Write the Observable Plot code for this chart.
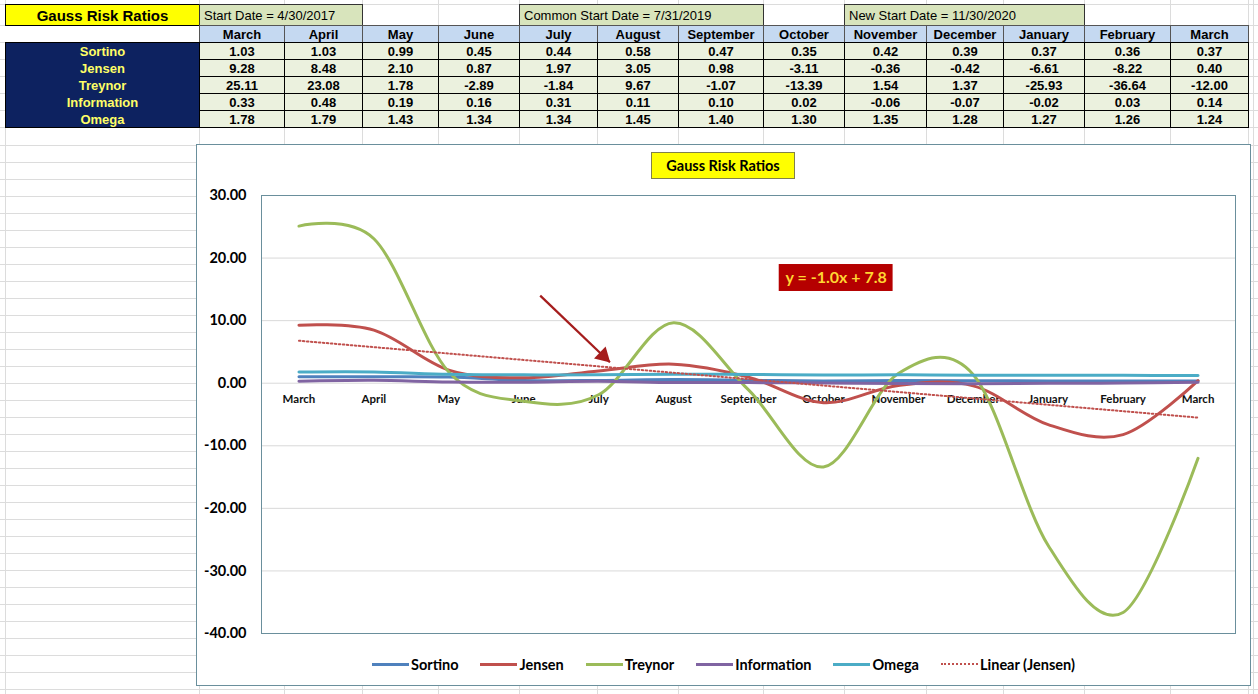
<!DOCTYPE html>
<html>
<head>
<meta charset="utf-8">
<script src="https://cdn.jsdelivr.net/npm/d3@7"></script>
<script src="https://cdn.jsdelivr.net/npm/@observablehq/plot@0.6"></script>
<style>
html, body { margin: 0; padding: 0; }
body { width: 1258px; height: 694px; position: relative; overflow: hidden; background: #fff; font-family: "Liberation Sans", Arial, sans-serif; }
#sheet { position: absolute; left: 0; top: 0; width: 1258px; height: 694px; }
.hl { position: absolute; left: 0; width: 1258px; height: 1px; background: #dcdcdc; }
.vl { position: absolute; top: 0; width: 1px; height: 694px; background: #dcdcdc; }
.cell { position: absolute; box-sizing: border-box; display: flex; align-items: center; justify-content: center; white-space: nowrap; overflow: hidden; color: #000; }
.title { background: #ffff00; border: 1px solid #000; font-weight: bold; font-size: 15px; }
.date { background: #d8e4bc; border: 1px solid #333; font-size: 13px; justify-content: flex-start; padding-left: 4px; }
.mhead { background: #c5d9f1; border: 1px solid #555; font-weight: bold; font-size: 13px; }
.blank { background: #fff; }
.navy { background: #0d2260; border: 1px solid #000; }
.lab { color: #ffff66; font-weight: bold; font-size: 13px; }
.val { background: #ebf1de; border: 1px solid #000; font-weight: bold; font-size: 13px; }
#chart { position: absolute; left: 196px; top: 144px; width: 1055px; height: 542px; box-sizing: border-box; border: 1px solid #6a8f9c; background: #fff; }
#chart svg { position: absolute; left: 0; top: 0; }
#chart svg g[aria-label^="y-axis"] { font-size: 14.5px; font-weight: bold; }
#chart svg g[aria-label^="y-axis"] text { fill: #000; }
#ctitle { position: absolute; left: 454px; top: 7px; width: 144px; height: 27px; box-sizing: border-box; border: 1px solid #80804a; background: #ffff00; font: bold 14.5px Lato, sans-serif; display: flex; align-items: center; justify-content: center; color: #000; }
#legend { position: absolute; left: 0; top: 509px; width: 1053px; height: 20px; display: flex; justify-content: center; align-items: center; gap: 22px; font: bold 14.5px Lato, sans-serif; color: #000; }
.item { display: flex; align-items: center; }
.sw { display: inline-block; width: 37px; height: 3px; margin-right: 2px; }
.swdot { display: inline-block; width: 37px; height: 0; border-top: 2px dotted #c0504d; margin-right: 2px; }
</style>
</head>
<body>
<div id="sheet"></div>
<div id="chart">
  <div id="ctitle">Gauss Risk Ratios</div>
  <div id="legend"></div>
</div>
<script>
// ---------- data ----------
const months = ["March","April","May","June","July","August","September","October","November","December","January","February","March"];
const sortino     = [1.03, 1.03, 0.99, 0.45, 0.44, 0.58, 0.47, 0.35, 0.42, 0.39, 0.37, 0.36, 0.37];
const jensen      = [9.28, 8.48, 2.10, 0.87, 1.97, 3.05, 0.98, -3.11, -0.36, -0.42, -6.61, -8.22, 0.40];
const treynor     = [25.11, 23.08, 1.78, -2.89, -1.84, 9.67, -1.07, -13.39, 1.54, 1.37, -25.93, -36.64, -12.00];
const information = [0.33, 0.48, 0.19, 0.16, 0.31, 0.11, 0.10, 0.02, -0.06, -0.07, -0.02, 0.03, 0.14];
const omega       = [1.78, 1.79, 1.43, 1.34, 1.34, 1.45, 1.40, 1.30, 1.35, 1.28, 1.27, 1.26, 1.24];
const seriesNames = ["Sortino", "Jensen", "Treynor", "Information", "Omega"];
const seriesColors = ["#4f81bd", "#c0504d", "#9bbb59", "#8064a2", "#4bacc6"];
const yTicks = [30, 20, 10, 0, -10, -20, -30, -40];
const tableTitle = "Gauss Risk Ratios";
const startDates = [
  {label: "Start Date = 4/30/2017", from: 0, to: 1},
  {label: "Common Start Date = 7/31/2019", from: 4, to: 6},
  {label: "New Start Date = 11/30/2020", from: 8, to: 10}
];
const trendLabel = "y = -1.0x + 7.8";
const trendName = "Linear (Jensen)";

// ---------- annotation placement (data coordinates) ----------
const arrowAnno = {x1: 3.22, y1: 14.0, x2: 4.15, y2: 3.35};
const eqAnno = {x1: 6.41, x2: 7.93, y1: 14.66, y2: 18.97};

// ---------- spreadsheet layout ----------
const colX = [5, 199, 284, 362, 438, 519, 597, 678, 763, 844, 926, 1003, 1084, 1170, 1248];
const rowY = [4, 25, 42, 59, 76, 93, 110, 127];
const sheet = document.getElementById("sheet");

function line(cls, prop, v) {
  const d = document.createElement("div");
  d.className = cls; d.style[prop] = v + "px"; sheet.appendChild(d);
}
for (const y of rowY) line("hl", "top", y);
for (let y = 128 + 17; y < 694; y += 17) line("hl", "top", y);
for (const x of colX) line("vl", "left", x);
line("vl", "left", 1253);

function cell(x1, x2, y1, y2, text, cls) {
  const d = document.createElement("div");
  d.className = "cell " + cls;
  d.style.left = x1 + "px"; d.style.top = y1 + "px";
  d.style.width = (x2 - x1 + 1) + "px"; d.style.height = (y2 - y1 + 1) + "px";
  if (text != null) d.textContent = text;
  sheet.appendChild(d);
  return d;
}
cell(colX[0], colX[1], rowY[0], rowY[1], tableTitle, "title");
for (const s of startDates) cell(colX[s.from + 1], colX[s.to + 2], rowY[0], rowY[1], s.label, "date");
cell(colX[0], colX[1], rowY[1] + 1, rowY[2], null, "blank");
months.forEach((m, i) => cell(colX[i + 1], colX[i + 2], rowY[1], rowY[2], m, "mhead"));
cell(colX[0], colX[1], rowY[2], rowY[7], null, "navy");
const seriesValues = [sortino, jensen, treynor, information, omega];
seriesNames.forEach((s, k) => {
  const lab = cell(colX[0], colX[1], rowY[k + 2], rowY[k + 3], s, "lab");
  lab.style.border = "none";
  seriesValues[k].forEach((v, i) => cell(colX[i + 1], colX[i + 2], rowY[k + 2], rowY[k + 3], v.toFixed(2), "val"));
});

// ---------- chart ----------
const rows = seriesNames.flatMap((s, k) => seriesValues[k].map((v, i) => ({series: s, i, value: v})));
const jensenRows = rows.filter(d => d.series === "Jensen");
const monthRows = months.map((m, i) => ({m, i}));

const plot = Plot.plot({
  width: 1053,
  height: 500,
  marginLeft: 64,
  marginRight: 15,
  marginTop: 50,
  marginBottom: 12,
  style: {fontFamily: "Lato, sans-serif", background: "transparent", overflow: "visible", color: "#000"},
  x: {domain: [-0.5, months.length - 0.5], axis: null},
  y: {domain: [-40, 30], ticks: yTicks, tickFormat: d => d.toFixed(2), tickSize: 0, tickPadding: 15, label: null},
  color: {domain: seriesNames, range: seriesColors},
  marks: [
    Plot.ruleY(yTicks, {stroke: "#d9d9d9", strokeWidth: 1}),
    Plot.frame({stroke: "#6a8f9c", strokeWidth: 1}),
    Plot.text(monthRows, {x: "i", y: () => 0, dy: 16, text: "m", fontSize: 11.5, fontWeight: "bold", fill: "#111"}),
    Plot.line(rows, {x: "i", y: "value", z: "series", stroke: "series", curve: "cardinal", strokeWidth: 3, strokeLinejoin: "round", strokeLinecap: "round"}),
    Plot.linearRegressionY(jensenRows, {x: "i", y: "value", ci: 0, stroke: "#c0504d", strokeWidth: 2, strokeDasharray: "1.5,2.5"}),
    Plot.link([arrowAnno], {x1: "x1", y1: "y1", x2: "x2", y2: "y2", stroke: "#a51d1d", strokeWidth: 2.25}),
    Plot.dot([arrowAnno], {x: "x2", y: "y2", symbol: "triangle", r: 6.2, fill: "#a51d1d", stroke: "none", rotate: 134, dx: -6.6, dy: -6.4}),
    Plot.rect([eqAnno], {x1: "x1", x2: "x2", y1: "y1", y2: "y2", fill: "#b50000"}),
    Plot.text([eqAnno], {x: d => (d.x1 + d.x2) / 2, y: d => (d.y1 + d.y2) / 2, text: () => trendLabel, fill: "#ffd633", fontSize: 16, fontWeight: "bold"})
  ]
});
document.getElementById("chart").appendChild(plot);

// ---------- legend ----------
const legend = document.getElementById("legend");
seriesNames.forEach((s, k) => {
  const it = document.createElement("div"); it.className = "item";
  const sw = document.createElement("span"); sw.className = "sw"; sw.style.background = seriesColors[k];
  it.appendChild(sw); it.appendChild(document.createTextNode(s)); legend.appendChild(it);
});
{
  const it = document.createElement("div"); it.className = "item";
  const sw = document.createElement("span"); sw.className = "swdot";
  it.appendChild(sw); it.appendChild(document.createTextNode(trendName)); legend.appendChild(it);
}
</script>
</body>
</html>
